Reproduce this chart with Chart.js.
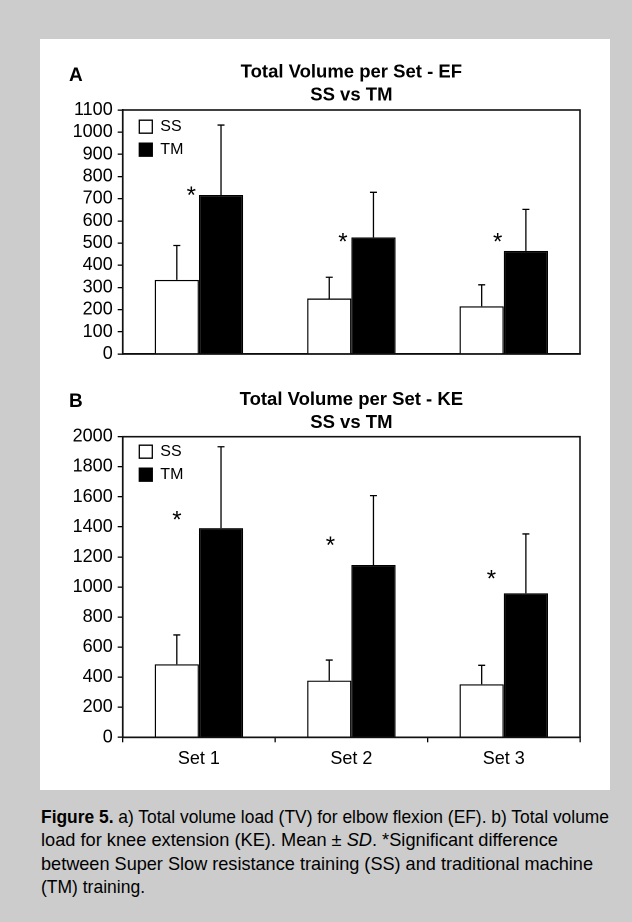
<!DOCTYPE html>
<html>
<head>
<meta charset="utf-8">
<script src="https://cdn.jsdelivr.net/npm/chart.js@4.4.1/dist/chart.umd.min.js"></script>
<style>
html,body{margin:0;padding:0;background:#cccccc;width:632px;height:922px;overflow:hidden;}
#panel{position:absolute;left:40px;top:39px;width:570px;height:751px;background:#ffffff;}
#wrapA{position:absolute;left:40px;top:40px;width:570px;height:335px;}
#wrapB{position:absolute;left:40px;top:380px;width:570px;height:410px;}
#caption{position:absolute;left:41px;top:805px;font-family:"Liberation Sans",Arial,sans-serif;font-size:18.5px;line-height:23.4px;color:#000;white-space:nowrap;}
#caption div{width:max-content;transform-origin:0 0;}
</style>
</head>
<body>
<div id="panel"></div>
<div id="wrapA"><canvas id="chartA"></canvas></div>
<div id="wrapB"><canvas id="chartB"></canvas></div>
<div id="caption"><div><b>Figure 5.</b> a) Total volume load (TV) for elbow flexion (EF). b) Total volume</div><div>load for knee extension (KE). Mean ± <i>SD</i>. *Significant difference</div><div>between Super Slow resistance training (SS) and traditional machine</div><div>(TM) training.</div></div>
<script>
// ---- data ----
const categories = ['Set 1', 'Set 2', 'Set 3'];
const seriesNames = ['SS', 'TM'];

// A: elbow flexion (EF)
const efSS = [334, 250, 215];
const efSSsd = [155, 96, 97];
const efTM = [717, 526, 465];
const efTMsd = [315, 203, 187];
const efStarLevel = [738, 527, 527];
const efTitle = ['Total Volume per Set - EF', 'SS vs TM'];
const efTickRange = [0, 1100, 100];

// B: knee extension (KE)
const keSS = [486, 377, 353];
const keSSsd = [195, 137, 126];
const keTM = [1392, 1146, 958];
const keTMsd = [541, 462, 395];
const keStarLevel = [1479, 1308, 1087];
const keTitle = ['Total Volume per Set - KE', 'SS vs TM'];
const keTickRange = [0, 2000, 200];

// ---- caption: the original uses a condensed face; fit each line to its width ----
(function () {
  const lineWidths = [568, 517, 552, 104];
  document.querySelectorAll('#caption div').forEach((el, i) => {
    const w = el.getBoundingClientRect().width;
    if (w > 0) el.style.transform = 'scaleX(' + (lineWidths[i] / w) + ')';
  });
})();

// ---- plugins ----
const FONT = '"Liberation Sans", Arial, sans-serif';
Chart.defaults.color = '#000';
Chart.defaults.font.family = FONT;

const frame = {
  id: 'frame',
  afterDatasetsDraw(chart) {
    const {ctx, chartArea: a} = chart;
    ctx.save();
    ctx.strokeStyle = '#111';
    ctx.lineWidth = 1.6;
    ctx.strokeRect(a.left, a.top, a.right - a.left, a.bottom - a.top);
    ctx.restore();
  }
};

const errorBars = {
  id: 'errorBars',
  afterDatasetsDraw(chart) {
    const ctx = chart.ctx, y = chart.scales.y;
    chart.data.datasets.forEach((ds, i) => {
      const meta = chart.getDatasetMeta(i);
      meta.data.forEach((bar, j) => {
        const top = y.getPixelForValue(ds.data[j] + ds.sd[j]);
        ctx.save();
        ctx.strokeStyle = '#000';
        ctx.lineWidth = 1.3;
        ctx.beginPath();
        ctx.moveTo(bar.x, bar.y);
        ctx.lineTo(bar.x, top);
        ctx.moveTo(bar.x - 3.5, top);
        ctx.lineTo(bar.x + 3.5, top);
        ctx.stroke();
        ctx.restore();
      });
    });
  }
};

const stars = {
  id: 'stars',
  afterDatasetsDraw(chart, args, opts) {
    const ctx = chart.ctx, x = chart.scales.x, y = chart.scales.y;
    const step = x.getPixelForValue(1) - x.getPixelForValue(0);
    ctx.save();
    ctx.font = '24px ' + FONT;
    ctx.fillStyle = '#000';
    ctx.textAlign = 'center';
    ctx.textBaseline = 'alphabetic';
    const m = ctx.measureText('*');
    const mid = (m.actualBoundingBoxAscent - m.actualBoundingBoxDescent) / 2;
    opts.levels.forEach((v, j) => {
      ctx.fillText('*', x.getPixelForValue(j) + opts.shift[j] * step, y.getPixelForValue(v) + mid);
    });
    ctx.restore();
  }
};

const panelLetter = {
  id: 'panelLetter',
  afterDraw(chart, args, opts) {
    const ctx = chart.ctx;
    ctx.save();
    ctx.font = 'bold 19px ' + FONT;
    ctx.fillStyle = '#000';
    ctx.textAlign = 'left';
    ctx.textBaseline = 'alphabetic';
    ctx.fillText(opts.text, opts.x, opts.y);
    ctx.restore();
  }
};

const legendNudge = {
  id: 'legendNudge',
  afterLayout(chart, args, opts) {
    if (chart.legend) {
      chart.legend.left = chart.chartArea.left + opts.dx;
      chart.legend.top = chart.chartArea.top + opts.dy;
    }
  }
};

function makeChart(id, ssData, ssSd, tmData, tmSd, title, tickRange, starLevels, starShift, letter, letterY, showX, yWidth, xHeight, pad, titlePad, legendDy) {
  return new Chart(document.getElementById(id), {
    type: 'bar',
    data: {
      labels: categories,
      datasets: [
        {label: seriesNames[0], data: ssData, sd: ssSd, backgroundColor: '#ffffff', borderColor: '#000', borderWidth: 1.3, borderSkipped: 'bottom'},
        {label: seriesNames[1], data: tmData, sd: tmSd, backgroundColor: '#000000', borderColor: '#000', borderWidth: 1.3, borderSkipped: 'bottom'}
      ]
    },
    options: {
      responsive: true,
      maintainAspectRatio: false,
      animation: false,
      devicePixelRatio: 2,
      categoryPercentage: 0.58,
      barPercentage: 1.0,
      layout: {padding: pad},
      scales: {
        x: {
          ticks: {display: showX, color: '#000', font: {size: 18, family: FONT}, padding: 6},
          grid: {display: showX, offset: true, drawOnChartArea: false, drawTicks: true, tickLength: 5, color: '#000', lineWidth: 1.3},
          border: {display: true, color: '#000', width: 1.6},
          afterFit(s) { s.height = xHeight; }
        },
        y: {
          min: tickRange[0], max: tickRange[1],
          ticks: {stepSize: tickRange[2], autoSkip: false, color: '#000', font: {size: 18, family: FONT}, padding: 5,
                  callback: (v) => String(v)},
          grid: {display: true, drawOnChartArea: false, drawTicks: true, tickLength: 5, color: '#000', lineWidth: 1.3},
          border: {display: true, color: '#000', width: 1.6},
          afterFit(s) { s.width = yWidth; }
        }
      },
      plugins: {
        title: {
          display: true, text: title, fullSize: false, color: '#000',
          font: {family: FONT, weight: 'bold', size: 18.5, lineHeight: 1.2432},
          padding: titlePad
        },
        legend: {
          display: true, position: 'chartArea', align: 'start',
          labels: {boxWidth: 13, boxHeight: 13, padding: 7, color: '#000', font: {size: 16, family: FONT}}
        },
        tooltip: {enabled: false},
        legendNudge: {dx: 9.6, dy: legendDy},
        stars: {levels: starLevels, shift: starShift},
        panelLetter: {text: letter, x: 29, y: letterY}
      }
    },
    plugins: [legendNudge, frame, errorBars, stars, panelLetter]
  });
}

makeChart('chartA', efSS, efSSsd, efTM, efTMsd, efTitle, efTickRange, efStarLevel, [-0.05, -0.055, -0.04],
  'A', 41, false, 82.7, 0, {left: 0, right: 30, top: 0, bottom: 21}, {top: 20.8, bottom: 3.2}, 1.7);
makeChart('chartB', keSS, keSSsd, keTM, keTMsd, keTitle, keTickRange, keStarLevel, [-0.144, -0.137, -0.081],
  'B', 27, true, 82.7, 40, {left: 0, right: 30, top: 0, bottom: 12.7}, {top: 8.5, bottom: 2.2}, 0);
</script>
</body>
</html>
